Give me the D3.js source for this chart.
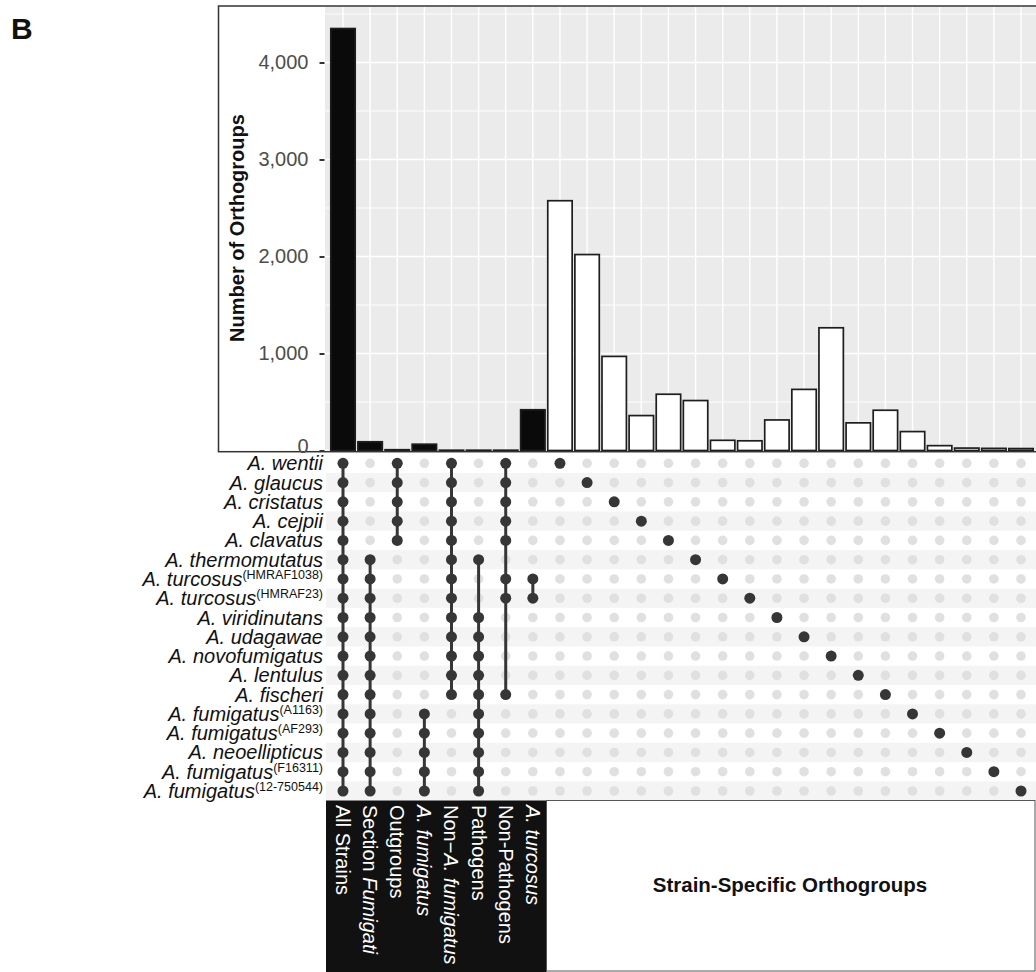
<!DOCTYPE html>
<html>
<head>
<meta charset="utf-8">
<script src="https://cdn.jsdelivr.net/npm/d3@7"></script>
<style>
  html, body { margin: 0; padding: 0; background: #fff; }
  svg { display: block; }
  text { font-family: "Liberation Sans", Arial, Helvetica, sans-serif; }
</style>
</head>
<body>
<svg id="chart" width="1036" height="972"></svg>
<script>
// ---------------- DATA ----------------
const strainNames = ["A. wentii", "A. glaucus", "A. cristatus", "A. cejpii", "A. clavatus",
  "A. thermomutatus", "A. turcosus", "A. turcosus", "A. viridinutans", "A. udagawae",
  "A. novofumigatus", "A. lentulus", "A. fischeri", "A. fumigatus", "A. fumigatus",
  "A. neoellipticus", "A. fumigatus", "A. fumigatus"];
const strainSuffix = ["", "", "", "", "", "", "(HMRAF1038)", "(HMRAF23)", "", "", "", "", "",
  "(A1163)", "(AF293)", "", "(F16311)", "(12-750544)"];

// group intersections (rows belonging to each group)
const groupLabels = [
  [["All Strains", false]],
  [["Section ", false], ["Fumigati", true]],
  [["Outgroups", false]],
  [["A. fumigatus", true]],
  [["Non−", false], ["A. fumigatus", true]],
  [["Pathogens", false]],
  [["Non-Pathogens", false]],
  [["A. turcosus", true]]
];
const groupMembers = [
  [0,1,2,3,4,5,6,7,8,9,10,11,12,13,14,15,16,17],
  [5,6,7,8,9,10,11,12,13,14,15,16,17],
  [0,1,2,3,4],
  [13,14,15,16,17],
  [0,1,2,3,4,5,6,7,8,9,10,11,12],
  [5,8,9,10,11,12,13,14,15,16,17],
  [0,1,2,3,4,6,7,12],
  [6,7]
];
// counts: 8 group columns, then 18 strain-specific columns (one per strain, in row order)
const groupCounts = [4350, 90, 8, 65, 3, 3, 3, 420];
const specificCounts = [2575, 2020, 970, 360, 580, 515, 105, 100, 315, 630, 1265, 285, 415, 195, 50, 25, 22, 20];
const yTicks = [0, 1000, 2000, 3000, 4000];
const yMinor = [500, 1500, 2500, 3500, 4500];
const yTitle = "Number of Orthogroups";
const specificTitle = "Strain-Specific Orthogroups";
const panelLetter = "B";

// ---------------- BUILD ----------------
const columns = [];
groupCounts.forEach((c, i) => columns.push({count: c, members: groupMembers[i], group: true}));
specificCounts.forEach((c, i) => columns.push({count: c, members: [i], group: false}));

const svg = d3.select("#chart");
const FONT = 20;

const x = d3.scalePoint().domain(d3.range(columns.length)).range([343, 1021]);
const step = x.step();
const barW = step * 0.9;
const y = d3.scaleLinear().domain([0, 4572]).range([450.5, 7]);
const rowY = d3.scalePoint().domain(d3.range(strainNames.length)).range([463.3, 791]);

// panel letter
svg.append("text").attr("x", 11).attr("y", 39).attr("font-size", 30).attr("font-weight", "bold")
  .attr("fill", "#111").text(panelLetter);

// grey panel
const panelL = 325, panelR = 1036, panelT = 7, panelB = 451;
svg.append("rect").attr("x", panelL).attr("y", panelT).attr("width", panelR - panelL)
  .attr("height", panelB - panelT).attr("fill", "#ebebeb");

// gridlines
svg.append("g").selectAll("line").data(yMinor).join("line")
  .attr("x1", panelL).attr("x2", panelR).attr("y1", d => y(d)).attr("y2", d => y(d))
  .attr("stroke", "#fff").attr("stroke-width", 0.9);
svg.append("g").selectAll("line").data(yTicks).join("line")
  .attr("x1", panelL).attr("x2", panelR).attr("y1", d => y(d)).attr("y2", d => y(d))
  .attr("stroke", "#fff").attr("stroke-width", 1.4);
svg.append("g").selectAll("line").data(d3.range(columns.length)).join("line")
  .attr("x1", d => x(d)).attr("x2", d => x(d)).attr("y1", panelT).attr("y2", panelB)
  .attr("stroke", "#fff").attr("stroke-width", 1.4);

// bars
svg.append("g").selectAll("rect").data(columns).join("rect")
  .attr("x", (d, i) => x(i) - barW / 2)
  .attr("y", d => y(d.count))
  .attr("width", barW)
  .attr("height", d => y(0) - y(d.count))
  .attr("fill", d => d.group ? "#0a0a0a" : "#ffffff")
  .attr("stroke", "#1e1e1e").attr("stroke-width", 1.7);

// box border around bar chart
svg.append("rect").attr("x", 218.5).attr("y", 6).attr("width", 830).attr("height", 445.7)
  .attr("fill", "none").attr("stroke", "#333").attr("stroke-width", 1.5);

// y axis
const yAxis = d3.axisLeft(y).tickValues(yTicks).tickFormat(d3.format(",")).tickSize(5).tickPadding(11);
const ag = svg.append("g").attr("transform", `translate(${panelL - 0.5},0)`).call(yAxis);
ag.select(".domain").remove();
ag.selectAll(".tick line").attr("stroke", "#333").attr("stroke-width", 2);
ag.selectAll(".tick text").attr("font-size", FONT).attr("fill", "#4d4d4d")
  .attr("font-family", "'Liberation Sans', Arial, sans-serif");
ag.selectAll(".tick").filter(d => d === 0).select("text").attr("dy", "0.1em");

// y title
svg.append("text").attr("transform", "translate(244,228) rotate(-90)")
  .attr("text-anchor", "middle").attr("font-size", FONT).attr("font-weight", "bold")
  .attr("fill", "#111").text(yTitle);

// matrix stripes
svg.append("g").selectAll("rect").data(d3.range(strainNames.length).filter(i => i % 2 === 1)).join("rect")
  .attr("x", 326).attr("width", 1036 - 326)
  .attr("y", i => rowY(i) - rowY.step() / 2).attr("height", rowY.step())
  .attr("fill", "#f4f4f4");

// grey (inactive) dots
const cells = [];
columns.forEach((c, ci) => strainNames.forEach((s, ri) => {
  cells.push({ci, ri, on: c.members.includes(ri)});
}));
svg.append("g").selectAll("circle").data(cells.filter(d => !d.on)).join("circle")
  .attr("cx", d => x(d.ci)).attr("cy", d => rowY(d.ri)).attr("r", 4.8).attr("fill", "#e0e0e0");

// connecting lines
svg.append("g").selectAll("line").data(columns.filter(c => c.members.length > 1)).join("line")
  .attr("x1", c => x(columns.indexOf(c))).attr("x2", c => x(columns.indexOf(c)))
  .attr("y1", c => rowY(d3.min(c.members))).attr("y2", c => rowY(d3.max(c.members)))
  .attr("stroke", "#363636").attr("stroke-width", 3);

// active dots
svg.append("g").selectAll("circle").data(cells.filter(d => d.on)).join("circle")
  .attr("cx", d => x(d.ci)).attr("cy", d => rowY(d.ri)).attr("r", 5.5).attr("fill", "#363636");

// row labels
const rl = svg.append("g").selectAll("text").data(strainNames).join("text")
  .attr("x", 323).attr("y", (d, i) => rowY(i) + 7).attr("text-anchor", "end")
  .attr("font-size", FONT).attr("fill", "#111");
rl.each(function(d, i) {
  const t = d3.select(this);
  t.append("tspan").attr("font-style", "italic").text(d);
  if (strainSuffix[i]) {
    t.append("tspan").attr("font-size", 12.5).attr("dy", -7).text(strainSuffix[i]);
  }
});

// bottom label box: group labels
const boxTop = 800.5;
svg.append("rect").attr("x", 326).attr("y", boxTop).attr("width", 546.5 - 326).attr("height", 972 - boxTop)
  .attr("fill", "#111");
svg.append("rect").attr("x", 546.5).attr("y", boxTop).attr("width", 1035 - 546.5).attr("height", 971 - boxTop)
  .attr("fill", "#fff").attr("stroke", "#555").attr("stroke-width", 1);

const gl = svg.append("g").selectAll("text").data(groupLabels).join("text")
  .attr("transform", (d, i) => `translate(${x(i)},805) rotate(90)`)
  .attr("dy", "0.35em").attr("font-size", 20).attr("fill", "#fff");
gl.each(function(parts) {
  const t = d3.select(this);
  parts.forEach(p => t.append("tspan").attr("font-style", p[1] ? "italic" : "normal").text(p[0]));
});

svg.append("text").attr("x", 790).attr("y", 892).attr("text-anchor", "middle")
  .attr("font-size", 20.5).attr("font-weight", "bold").attr("fill", "#111").text(specificTitle);
</script>
</body>
</html>
